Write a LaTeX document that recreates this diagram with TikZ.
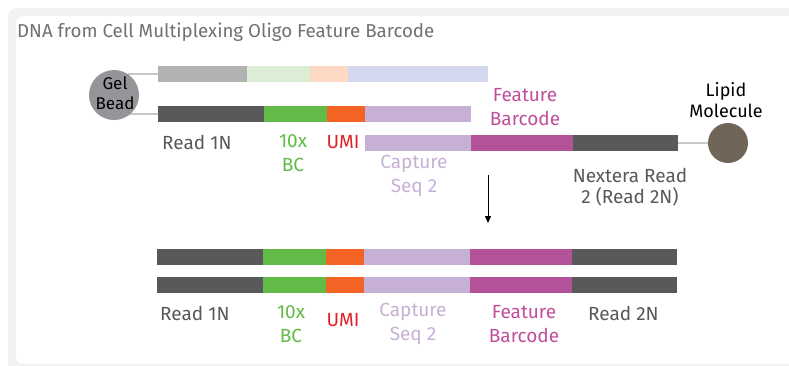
\documentclass[tikz,border=0pt]{standalone}
\usepackage{fontspec}
\setmainfont{Fira Sans}
\usetikzlibrary{arrows.meta}
\definecolor{framegray}{HTML}{F2F2F2}
\definecolor{titlegray}{HTML}{707174}
\definecolor{lgray}{HTML}{B3B2B3}
\definecolor{lgreen}{HTML}{DCEDD5}
\definecolor{lpeach}{HTML}{FDD9C4}
\definecolor{llav}{HTML}{D4D8EE}
\definecolor{dgray}{HTML}{58595B}
\definecolor{bcgreen}{HTML}{62BB46}
\definecolor{umiorange}{HTML}{F26324}
\definecolor{lav}{HTML}{C7B0D5}
\definecolor{magenta}{HTML}{B5539A}
\definecolor{umired}{HTML}{E02127}
\definecolor{fbtext}{HTML}{C04E9B}
\definecolor{beadgray}{HTML}{939598}
\definecolor{lipid}{HTML}{716559}
\definecolor{tethergray}{HTML}{C8C8C8}
\begin{document}
\begin{tikzpicture}[x=1pt,y=-1pt,
  seg/.style={draw=none,inner sep=0pt,outer sep=0pt,minimum height=16pt},
  lbl/.style={inner sep=0pt,align=center,font=\fontsize{19}{24}\selectfont},
  tether/.style={draw=tethergray,line width=1.2pt}]
\useasboundingbox (0,0) rectangle (789,365);
\fill[framegray,rounded corners=9pt] (8,8) rectangle (805,380);
\fill[white,rounded corners=7pt] (16,16) rectangle (798,364);

\node[anchor=west,inner sep=0pt,text=titlegray,font=\fontsize{18.7}{22}\selectfont] (title) at (17,32) {DNA from Cell Multiplexing Oligo Feature Barcode};

% top row 1
\node[seg,fill=lgray,minimum width=89pt] (a1) at (202.5,74) {};
\node[seg,fill=lgreen,minimum width=63pt] (a2) at (278.5,74) {};
\node[seg,fill=lpeach,minimum width=38pt] (a3) at (329,74) {};
\node[seg,fill=llav,minimum width=140pt] (a4) at (418,74) {};
% top row 2
\node[seg,fill=dgray,minimum width=106pt] (b1) at (211,114) {};
\node[seg,fill=bcgreen,minimum width=63pt] (b2) at (295.5,114) {};
\node[seg,fill=umiorange,minimum width=38pt] (b3) at (346,114) {};
\node[seg,fill=lav,minimum width=106pt] (b4) at (418,114) {};
% top row 3
\node[seg,fill=lav,minimum width=106pt] (c1) at (418,143) {};
\node[seg,fill=magenta,minimum width=102pt] (c2) at (522,143) {};
\node[seg,fill=dgray,minimum width=105pt] (c3) at (625.5,143) {};

% gel bead and tethers
\coordinate (t1) at (128,74);
\coordinate (t2) at (128,114);
\draw[tether] (t1) -- (a1.west);
\draw[tether] (t2) -- (b1.west);
\node[circle,fill=beadgray,minimum size=50pt,inner sep=0pt] (bead) at (114,95) {};
\node[lbl,font=\fontsize{17}{20.5}\selectfont,text=black] (beadlbl) at (115,93) {Gel\\Bead};

% lipid molecule
\node[circle,fill=lipid,minimum size=40pt,inner sep=0pt] (lipid) at (728,143) {};
\draw[tether] (c3.east) -- (lipid.west);
\node[lbl,font=\fontsize{18}{21}\selectfont,text=black] (lipidlbl) at (726,100) {Lipid\\Molecule};

% top labels
\node[lbl,text=dgray,anchor=west] (r1top) at (162,142) {Read 1N};
\node[lbl,text=bcgreen] (bctop) at (293,153.5) {10x\\BC};
\node[lbl,text=umired] (umitop) at (343,142) {UMI};
\node[lbl,text=lav] (cstop) at (414,175.5) {Capture\\Seq 2};
\node[lbl,text=fbtext] (fbtop) at (525,107.5) {Feature\\Barcode};
\node[lbl,font=\fontsize{19}{21}\selectfont,text=dgray] (nxtop) at (630,187) {Nextera Read\\2 (Read 2N)};

% arrow
\coordinate (arrS) at (488,175);
\coordinate (arrE) at (488,223);
\draw[-{Triangle[length=7pt,width=6pt]},line width=1pt] (arrS) -- (arrE);

% bottom rows
\foreach \r/\y in {d/257,e/285}{
  \node[seg,fill=dgray,minimum width=106pt] (\r1) at (210,\y) {};
  \node[seg,fill=bcgreen,minimum width=63pt] (\r2) at (294.5,\y) {};
  \node[seg,fill=umiorange,minimum width=38pt] (\r3) at (345,\y) {};
  \node[seg,fill=lav,minimum width=106pt] (\r4) at (417,\y) {};
  \node[seg,fill=magenta,minimum width=102pt] (\r5) at (521,\y) {};
  \node[seg,fill=dgray,minimum width=105pt] (\r6) at (624.5,\y) {};
}

% bottom labels
\node[lbl,text=dgray,anchor=west] (r1bot) at (160,313) {Read 1N};
\node[lbl,text=bcgreen] (bcbot) at (291,324) {10x\\BC};
\node[lbl,text=umired] (umibot) at (343,320) {UMI};
\node[lbl,text=lav] (csbot) at (413,324) {Capture\\Seq 2};
\node[lbl,text=fbtext] (fbbot) at (524,324) {Feature\\Barcode};
\node[lbl,text=dgray,anchor=west] (r2bot) at (588,313) {Read 2N};
\end{tikzpicture}
\end{document}
